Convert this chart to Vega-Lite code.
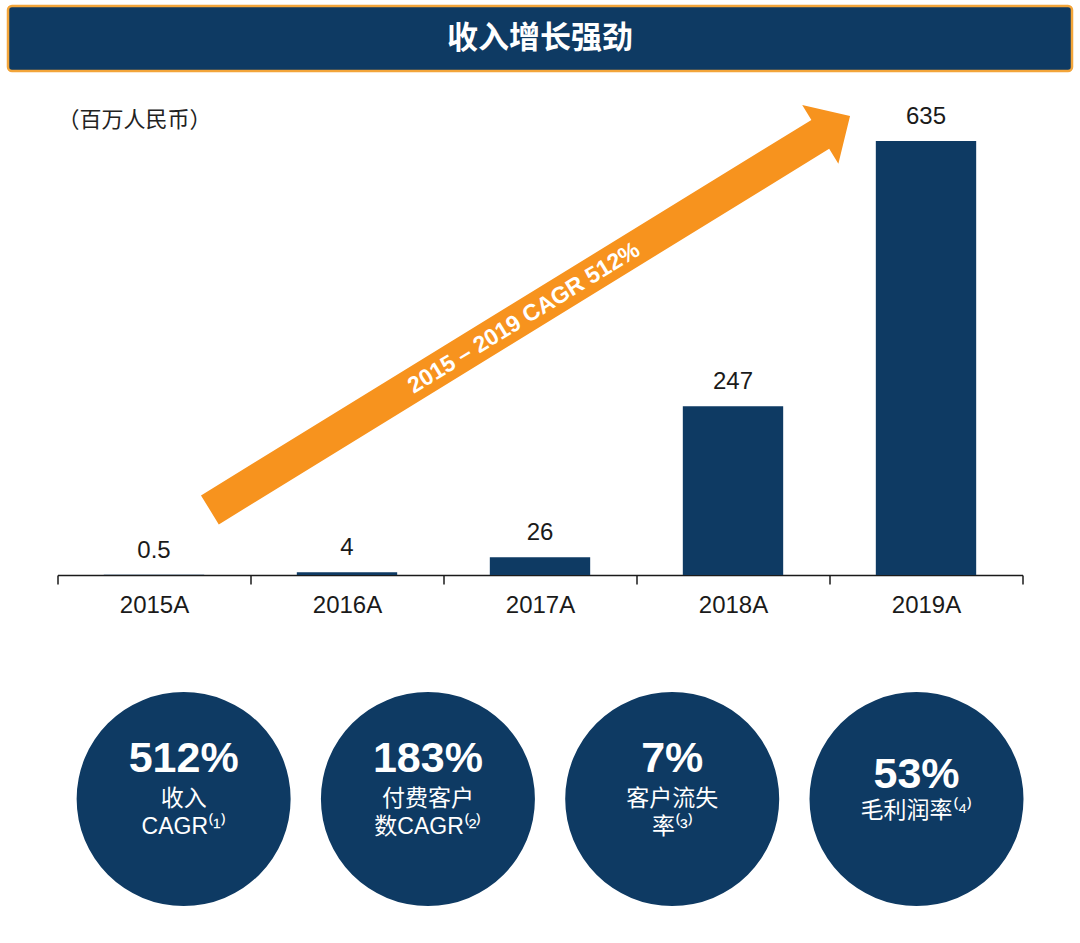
{
  "$schema": "https://vega.github.io/schema/vega-lite/v6.json",
  "background": "white",
  "padding": {"top": 4, "left": 0, "right": 0, "bottom": 0},
  "center": true,
  "bounds": "flush",
  "spacing": 26,
  "config": {
    "view": {"stroke": null},
    "font": "Liberation Sans",
    "axis": {
      "title": null,
      "grid": false,
      "labelFont": "Liberation Sans",
      "labelFontSize": 24,
      "labelColor": "#1a1a1a",
      "labelAngle": 0,
      "labelPadding": 9,
      "tickBand": "extent",
      "tickSize": 9,
      "tickColor": "#1a1a1a",
      "tickWidth": 1.5,
      "domainColor": "#1a1a1a",
      "domainWidth": 1.5
    }
  },
  "vconcat": [
    {
      "width": 1064,
      "height": 65,
      "view": {"fill": "#0e3a63", "stroke": "#f3a53a", "strokeWidth": 2.5, "cornerRadius": 4},
      "data": {"values": [{"title": "收入增长强劲"}]},
      "mark": {"type": "text", "font": "Noto Sans CJK SC", "fontSize": 31, "fontWeight": "bold", "color": "white", "align": "center", "baseline": "middle"},
      "encoding": {"text": {"field": "title", "type": "nominal"}}
    },
    {
      "width": 965,
      "height": 478,
      "layer": [
        {
          "data": {"values": [
            {"year": "2015A", "revenue": 0.5},
            {"year": "2016A", "revenue": 4},
            {"year": "2017A", "revenue": 26},
            {"year": "2018A", "revenue": 247},
            {"year": "2019A", "revenue": 635}
          ]},
          "layer": [
            {
              "mark": {"type": "bar", "color": "#0e3a63", "width": {"band": 0.52}},
              "encoding": {
                "x": {"field": "year", "type": "nominal", "sort": null, "scale": {"paddingInner": 0, "paddingOuter": 0}},
                "y": {"field": "revenue", "type": "quantitative", "scale": {"domain": [0, 699.3], "nice": false}, "axis": null}
              }
            },
            {
              "mark": {"type": "text", "dy": -24, "fontSize": 24, "color": "#1a1a1a", "font": "Liberation Sans", "baseline": "middle"},
              "encoding": {
                "x": {"field": "year", "type": "nominal", "sort": null},
                "y": {"field": "revenue", "type": "quantitative", "scale": {"domain": [0, 699.3], "nice": false}, "axis": null},
                "text": {"field": "revenue", "type": "quantitative"}
              }
            }
          ]
        },
        {
          "layer": [
            {
              "data": {"values": [{"label": "2015 – 2019 CAGR 512%"}]},
              "layer": [
                {
                  "mark": {"type": "point", "shape": "M-1,-0.0452L0.907,-0.0452L0.907,-0.0918L1,0L0.907,0.0918L0.907,0.0452L-1,0.0452Z", "size": 564903, "angle": 328.4, "filled": true, "color": "#f7931e", "opacity": 1, "strokeWidth": 0},
                  "encoding": {
                    "x": {"datum": 2016.948, "type": "quantitative", "scale": {"domain": [2014.5, 2019.5], "nice": false, "zero": false}, "axis": null},
                    "y": {"datum": 383.3, "type": "quantitative", "scale": {"domain": [0, 699.3], "nice": false}, "axis": null}
                  }
                },
                {
                  "mark": {"type": "text", "angle": 328.4, "fontSize": 23, "fontWeight": "bold", "color": "white", "font": "Liberation Sans", "align": "center", "baseline": "middle"},
                  "encoding": {
                    "x": {"datum": 2016.917, "type": "quantitative", "scale": {"domain": [2014.5, 2019.5], "nice": false, "zero": false}, "axis": null},
                    "y": {"datum": 376, "type": "quantitative", "scale": {"domain": [0, 699.3], "nice": false}, "axis": null},
                    "text": {"field": "label", "type": "nominal"}
                  }
                }
              ]
            },
            {
              "data": {"values": [{"unit": "（百万人民币）"}]},
              "mark": {"type": "text", "align": "left", "baseline": "middle", "font": "Noto Sans CJK SC", "fontSize": 22, "color": "#222222"},
              "encoding": {
                "x": {"datum": 2014.5, "type": "quantitative", "scale": {"domain": [2014.5, 2019.5], "nice": false, "zero": false}, "axis": null},
                "y": {"datum": 665.7, "type": "quantitative", "scale": {"domain": [0, 699.3], "nice": false}, "axis": null},
                "text": {"field": "unit", "type": "nominal"}
              }
            }
          ]
        }
      ],
      "resolve": {"scale": {"x": "independent"}}
    },
    {
      "width": 1080,
      "height": 340,
      "data": {"values": [
        {"k": "c1", "big": "512%", "sub": "收入\nCAGR⁽¹⁾"},
        {"k": "c2", "big": "183%", "sub": "付费客户\n数CAGR⁽²⁾"},
        {"k": "c3", "big": "7%", "sub": "客户流失\n率⁽³⁾"},
        {"k": "c4", "big": "53%", "sub": "毛利润率⁽⁴⁾"}
      ]},
      "encoding": {
        "x": {"field": "k", "type": "nominal", "sort": null, "scale": {"type": "point", "padding": 0.7105, "align": 0.529}, "axis": null},
        "y": {"datum": 0, "type": "quantitative", "scale": {"domain": [-1, 1.3946], "nice": false, "zero": false}, "axis": null}
      },
      "layer": [
        {
          "mark": {"type": "point", "shape": "circle", "size": 45796, "filled": true, "color": "#0e3a63", "opacity": 1, "strokeWidth": 0}
        },
        {
          "transform": [{"filter": "datum.k !== 'c4'"}],
          "mark": {"type": "text", "dy": -40, "fontSize": 43, "fontWeight": "bold", "color": "white", "font": "Liberation Sans", "baseline": "middle"},
          "encoding": {"text": {"field": "big", "type": "nominal"}}
        },
        {
          "transform": [{"filter": "datum.k === 'c4'"}],
          "mark": {"type": "text", "dy": -24, "fontSize": 43, "fontWeight": "bold", "color": "white", "font": "Liberation Sans", "baseline": "middle"},
          "encoding": {"text": {"field": "big", "type": "nominal"}}
        },
        {
          "transform": [{"filter": "datum.k !== 'c4'"}],
          "mark": {"type": "text", "dy": 0, "fontSize": 23, "lineHeight": 28, "lineBreak": "\n", "color": "white", "font": "Liberation Sans, Noto Sans CJK SC", "baseline": "middle"},
          "encoding": {"text": {"field": "sub", "type": "nominal"}}
        },
        {
          "transform": [{"filter": "datum.k === 'c4'"}],
          "mark": {"type": "text", "dy": 12, "fontSize": 23, "lineHeight": 28, "lineBreak": "\n", "color": "white", "font": "Liberation Sans, Noto Sans CJK SC", "baseline": "middle"},
          "encoding": {"text": {"field": "sub", "type": "nominal"}}
        }
      ]
    }
  ]
}
